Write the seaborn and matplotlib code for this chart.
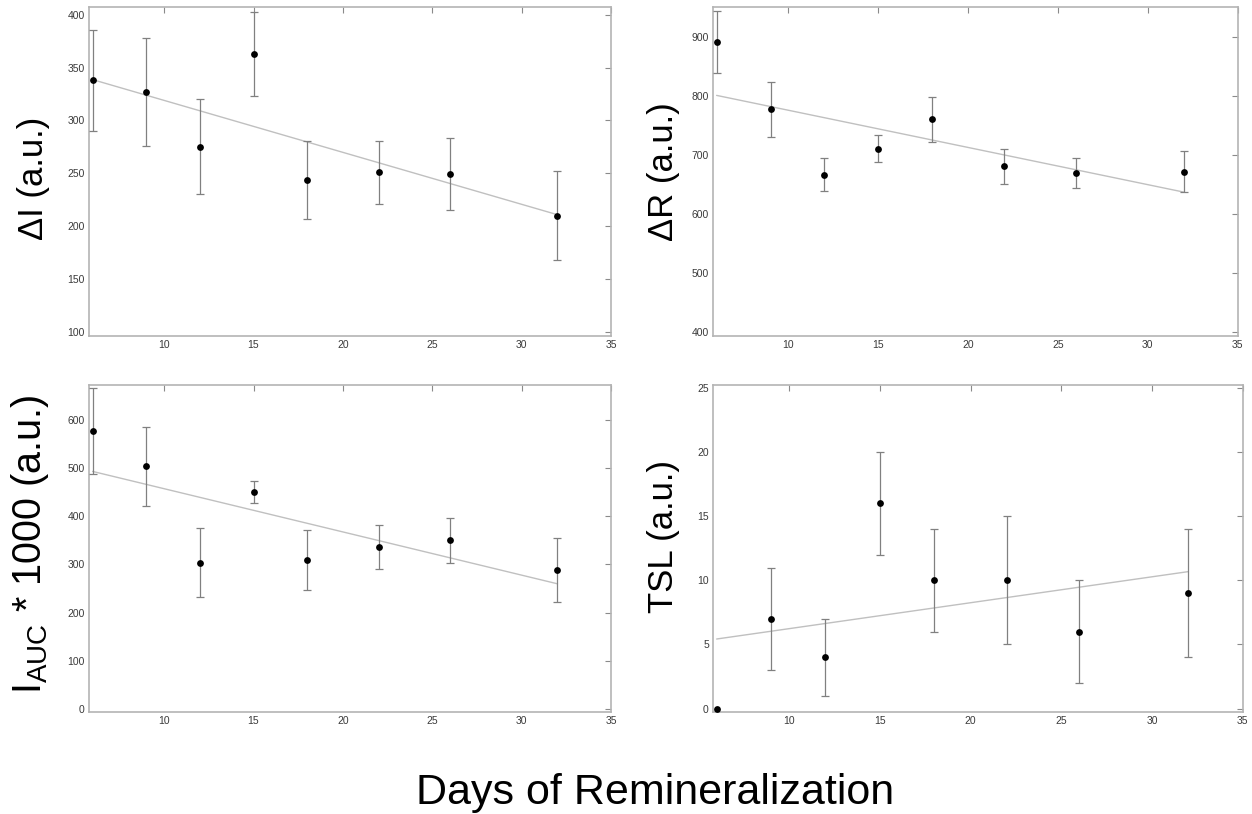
import numpy as np
import pandas as pd
import matplotlib
matplotlib.use("Agg")
import matplotlib.pyplot as plt
import seaborn as sns

# Days of remineralization at which samples were measured
days = [6, 9, 12, 15, 18, 22, 26, 32]

# Fluorescence intensity change
delta_i = [338, 327, 275, 363, 244, 251, 249, 210]
delta_i_err = [48, 51, 45, 40, 37, 30, 34, 42]

# Reflectance change
delta_r = [892, 778, 667, 711, 761, 681, 670, 672]
delta_r_err = [52, 47, 28, 23, 38, 29, 25, 35]

# Area under curve (x1000)
i_auc = [578, 504, 304, 451, 309, 337, 350, 289]
i_auc_err = [89, 83, 72, 23, 63, 46, 46, 67]

# TSL
tsl = [0, 7, 4, 16, 10, 10, 6, 9]
tsl_err = [0, 4, 3, 4, 4, 5, 4, 5]

sns.set_theme(style="white")
plt.rcParams["font.family"] = ["Liberation Sans", "DejaVu Sans"]
plt.rcParams["mathtext.fontset"] = "custom"
plt.rcParams["mathtext.rm"] = "Liberation Sans"
plt.rcParams["mathtext.it"] = "Liberation Sans"

frame_col = "#b4b4b4"
tick_col = "#8a8a8a"
label_col = "#3a3a3a"
err_col = "#808080"
fit_col = "#c0c0c0"

fig = plt.figure(figsize=(12.52, 8.14), dpi=100)

panels = [
    dict(y=delta_i, err=delta_i_err, label="ΔI (a.u.)", fs=25,
         rect=[0.0711, 0.587, 0.417, 0.404],
         yticks=np.arange(100, 401, 50), ylim=(96, 407), lab=(-0.075, 0.48)),
    dict(y=delta_r, err=delta_r_err, label="ΔR (a.u.)", fs=25,
         rect=[0.5695, 0.587, 0.419, 0.404],
         yticks=np.arange(400, 901, 100), ylim=(393, 951), lab=(-0.063, 0.5)),
    dict(y=i_auc, err=i_auc_err, label=r"I$_{\mathrm{AUC}}$ * 1000 (a.u.)",
         fs=28.5, rect=[0.0711, 0.1253, 0.417, 0.402],
         yticks=np.arange(0, 601, 100), ylim=(-7, 674), lab=(-0.072, 0.514)),
    dict(y=tsl, err=tsl_err, label="TSL (a.u.)", fs=25,
         rect=[0.5695, 0.1253, 0.423, 0.402],
         yticks=np.arange(0, 26, 5), ylim=(-0.27, 25.26), lab=(-0.063, 0.535)),
]

for p in panels:
    ax = fig.add_axes(p["rect"])
    df = pd.DataFrame({"day": days, "val": p["y"], "err": p["err"]})

    # least-squares trend line over the sampled range
    sns.regplot(data=df, x="day", y="val", ax=ax, scatter=False, ci=None,
                truncate=True, color=fit_col, line_kws=dict(lw=1.0, zorder=2))

    ebar = df[df["err"] > 0]
    ax.errorbar(ebar["day"], ebar["val"], yerr=ebar["err"], fmt="none",
                ecolor=err_col, elinewidth=0.9, capsize=3, capthick=0.9,
                zorder=3)

    sns.scatterplot(data=df, x="day", y="val", ax=ax, color="black",
                    s=24, linewidth=0, zorder=4, clip_on=False)

    ax.set_xlim(5.8, 35)
    ax.set_xticks([10, 15, 20, 25, 30, 35])
    ax.set_ylim(*p["ylim"])
    ax.set_yticks(p["yticks"])
    ax.set_xlabel("")
    ax.set_ylabel(p["label"], fontsize=p["fs"], color="black")
    ax.yaxis.set_label_coords(*p["lab"])

    for s in ax.spines.values():
        s.set_visible(True)
        s.set_color(frame_col)
        s.set_linewidth(1.2)
    ax.tick_params(axis="both", which="major", direction="in", length=4,
                   width=0.8, color=tick_col, labelsize=7.5,
                   labelcolor=label_col, top=True, right=True, pad=3)

fig.text(0.523, 0.012, "Days of Remineralization", ha="center",
         va="baseline", fontsize=31, color="black")

fig.savefig("out.png", dpi=100, facecolor="white")
